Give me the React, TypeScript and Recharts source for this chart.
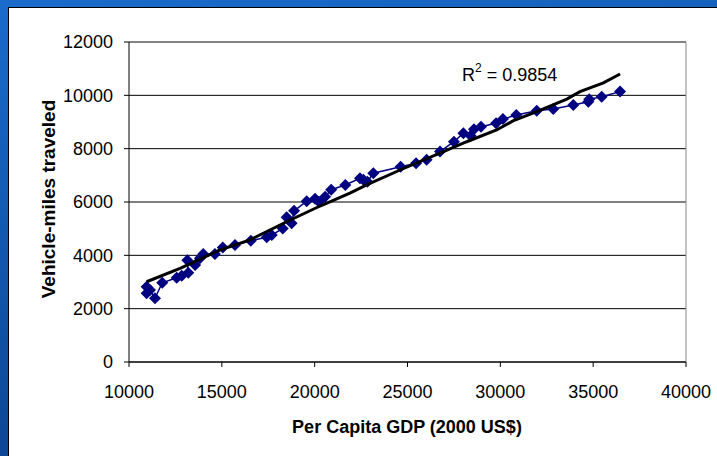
import { ScatterChart, Scatter, XAxis, YAxis, CartesianGrid, ReferenceLine } from 'recharts'

// per capita GDP (2000 US$) vs vehicle-miles traveled
const gdp = [
  10950, 10950, 11130, 11400, 11790, 12570, 12840, 13190, 13140, 13560, 13820, 14000, 14630,
  15050, 15710, 16560, 17420, 17690, 18280, 18490, 18760, 18890, 19570, 20020, 20230, 20560,
  20890, 21650, 22440, 22620, 22840, 23160, 24630, 25460, 26030, 26750, 27500, 28010, 28400,
  28580, 28960, 29770, 30140, 30860, 31960, 32850, 33930, 34740, 34790, 35460, 36450
]
const vmt = [
  2820, 2580, 2700, 2390, 2970, 3160, 3230, 3350, 3820, 3640, 3890, 4050, 4050,
  4290, 4390, 4550, 4680, 4760, 5010, 5430, 5200, 5670, 6030, 6120, 6010, 6200,
  6460, 6640, 6890, 6830, 6760, 7080, 7320, 7450, 7580, 7890, 8260, 8580, 8480,
  8730, 8820, 8950, 9110, 9260, 9420, 9490, 9640, 9760, 9850, 9950, 10140
]

// fitted line (drawn as in the original, slightly kinked)
const trendGdp = [
  10950, 12750, 14900, 16520, 18490, 20290, 21900, 22800, 24600, 26750, 28190, 29800, 30680,
  31960, 33580, 34290, 35550, 36450
]
const trendVmt = [
  3010, 3510, 4200, 4580, 5260, 5850, 6330, 6640, 7200, 7830, 8260, 8700, 9040,
  9390, 9860, 10140, 10470, 10800
]

const xTicks = [10000, 15000, 20000, 25000, 30000, 35000, 40000]
const yTicks = [0, 2000, 4000, 6000, 8000, 10000, 12000]

const points = gdp.map((x, i) => ({ x, y: vmt[i] }))
const trend = trendGdp.map((x, i) => ({ x, y: trendVmt[i] }))

const FONT = '"Liberation Sans", Arial, sans-serif'
const tickStyle = { fill: '#000', fontSize: 18, fontFamily: FONT }

function Diamond(props: any) {
  const { cx, cy } = props
  if (cx == null || cy == null) return <g />
  const r = 6
  return (
    <path
      d={`M${cx},${cy - r}L${cx + r},${cy}L${cx},${cy + r}L${cx - r},${cy}Z`}
      fill="#000080"
    />
  )
}

export default function App() {
  return (
    <div
      style={{
        position: 'absolute',
        left: 0,
        top: 0,
        width: 717,
        height: 456,
        overflow: 'hidden',
        background: 'linear-gradient(170deg, #1a6bcc 0%, #1257ad 45%, #0b3c85 100%)'
      }}
    >
      <div
        style={{
          position: 'absolute',
          left: 8,
          top: 7,
          width: 720,
          height: 460,
          background: '#fff',
          borderLeft: '1px solid #000',
          borderTop: '1px solid #000'
        }}
      />
      <div style={{ position: 'absolute', left: 0, top: 0 }}>
        <ScatterChart
          width={717}
          height={456}
          margin={{ top: 42, right: 31, bottom: 34, left: 59 }}
        >
          <CartesianGrid horizontal vertical={false} stroke="#000" strokeOpacity={1} />
          <XAxis
            type="number"
            dataKey="x"
            domain={[10000, 40000]}
            ticks={xTicks}
            height={60}
            tickSize={5}
            tickMargin={18}
            axisLine={{ stroke: '#000' }}
            tickLine={{ stroke: '#000' }}
            tick={tickStyle}
            allowDataOverflow
          />
          <YAxis
            type="number"
            dataKey="y"
            domain={[0, 12000]}
            ticks={yTicks}
            width={70}
            tickSize={5}
            tickMargin={11}
            axisLine={{ stroke: '#000' }}
            tickLine={{ stroke: '#000' }}
            tick={tickStyle}
            allowDataOverflow
          />
          <ReferenceLine y={12000} stroke="#888" />
          <ReferenceLine x={40000} stroke="#888" />
          <Scatter
            data={points}
            line={{ stroke: '#000080', strokeWidth: 1.5 }}
            shape={Diamond}
            isAnimationActive={false}
          />
          <Scatter
            data={trend}
            line={{ stroke: '#000', strokeWidth: 3 }}
            shape={() => <g />}
            isAnimationActive={false}
          />
        </ScatterChart>
      </div>
      <svg
        width={717}
        height={456}
        style={{ position: 'absolute', left: 0, top: 0, pointerEvents: 'none' }}
        fontFamily={FONT}
      >
        <text
          x={55}
          y={199}
          transform="rotate(-90, 55, 199)"
          textAnchor="middle"
          fontWeight="bold"
          fontSize={19}
          fill="#000"
        >
          Vehicle-miles traveled
        </text>
        <text x={407} y={433} textAnchor="middle" fontWeight="bold" fontSize={18} fill="#000">
          Per Capita GDP (2000 US$)
        </text>
        <text x={462} y={81} fontSize={18} fill="#000">
          R<tspan dy={-9} fontSize={12}>2</tspan>
          <tspan dy={9}> = 0.9854</tspan>
        </text>
      </svg>
    </div>
  )
}
